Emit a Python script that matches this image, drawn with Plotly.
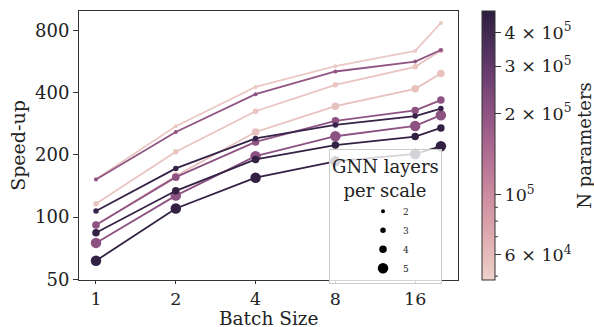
import numpy as np
import plotly.graph_objects as go

# ---------------- data ----------------
batch_sizes = [1, 2, 4, 8, 16, 20]
gnn_layers = [2, 3, 4, 2, 4, 5, 3, 4, 5]
n_params = [5.3e4, 5.5e4, 5.7e4, 1.95e5, 2.0e5, 2.05e5, 4.4e5, 4.5e5, 4.6e5]
speedup = [
    [153, 275, 426, 537, 636, 869],
    [116, 207, 325, 436, 533, 640],
    [91.5, 158, 258, 344, 417, 495],
    [152, 258, 393, 506, 565, 643],
    [91.5, 156, 231, 292, 328, 368],
    [75, 127, 197, 246, 276, 311],
    [107, 172, 240, 279, 308, 335],
    [84, 134, 190, 223, 245, 270],
    [61.5, 110, 155, 186, 202, 220],
]
legend_layers = [2, 3, 4, 5]
y_ticks = [50, 100, 200, 400, 800]
x_ticks = [1, 2, 4, 8, 16]
cb_ticks = [6e4, 1e5, 2e5, 3e5, 4e5]
cb_labels = ["6 × 10<sup>4</sup>", "10<sup>5</sup>",
             "2 × 10<sup>5</sup>", "3 × 10<sup>5</sup>", "4 × 10<sup>5</sup>"]
cb_minor = [5e4, 7e4, 8e4, 9e4]
c_min, c_max = 4.84e4, 4.8e5

# ---------------- style ----------------
FONT = "DejaVu Serif"
TXT = "#222"
size_map = {2: 4, 3: 5.5, 4: 7.5, 5: 10.5}
L_PX, R_PX, T_PX, B_PX = 79, 136, 11, 47
W, H = 594, 327
plot_w = W - L_PX - R_PX
plot_h = H - T_PX - B_PX
CB_LEFT_PX, CB_THICK = 482, 13


def cubehelix(t, start=0.0, rot=0.4, gamma=1.0, hue=0.8, light=0.85, dark=0.15):
    x = light + (dark - light) * t
    xg = x ** gamma
    a = hue * xg * (1 - xg) / 2
    phi = 2 * np.pi * (start / 3 + rot * x)
    r = xg + a * (-0.14861 * np.cos(phi) + 1.78277 * np.sin(phi))
    g = xg + a * (-0.29227 * np.cos(phi) - 0.90649 * np.sin(phi))
    b = xg + a * (1.97294 * np.cos(phi))
    return tuple(int(round(255 * min(max(v, 0), 1))) for v in (r, g, b))


lmin, lmax = np.log10(c_min), np.log10(c_max)
colorscale = []
for t in np.linspace(0, 1, 64):
    r, g, b = cubehelix(t)
    colorscale.append([float(t), f"rgb({r},{g},{b})"])


def color_for(n):
    t = (np.log10(n) - lmin) / (lmax - lmin)
    r, g, b = cubehelix(t)
    return f"rgb({r},{g},{b})"


fig = go.Figure()
for layers, n, ys in zip(gnn_layers, n_params, speedup):
    c = color_for(n)
    fig.add_trace(go.Scatter(
        x=batch_sizes, y=ys, mode="lines+markers",
        line=dict(color=c, width=1.8),
        marker=dict(size=size_map[layers], color=c),
        showlegend=False, hoverinfo="skip"))

cb_x = (CB_LEFT_PX - L_PX) / plot_w
# colorbar carrier
fig.add_trace(go.Scatter(
    x=[None], y=[None], mode="markers", showlegend=False,
    marker=dict(color=[lmin], cmin=lmin, cmax=lmax, colorscale=colorscale,
                showscale=True,
                colorbar=dict(
                    thickness=CB_THICK, thicknessmode="pixels",
                    len=1, lenmode="fraction", xpad=0, ypad=0,
                    x=cb_x, xanchor="left", y=0.5, yanchor="middle",
                    outlinewidth=1, outlinecolor="#333",
                    tickvals=[float(np.log10(v)) for v in cb_ticks],
                    ticktext=cb_labels,
                    ticks="outside", ticklen=6, tickcolor="#333",
                    tickfont=dict(family=FONT, size=17.5, color=TXT),
                    title=dict(text="N parameters", side="right",
                               font=dict(family=FONT, size=18, color=TXT)),
                ))))

# minor colorbar ticks
x_right = (CB_LEFT_PX + CB_THICK - L_PX) / plot_w
for v in cb_minor:
    yp = float((np.log10(v) - lmin) / (lmax - lmin))
    fig.add_shape(type="line", xref="paper", yref="paper",
                  x0=x_right, x1=x_right + 3 / plot_w, y0=yp, y1=yp,
                  line=dict(color="#333", width=1))

# size legend
for l in legend_layers:
    fig.add_trace(go.Scatter(
        x=[None], y=[None], mode="markers", name=str(l),
        marker=dict(size=size_map[l], color="black")))

# x-axis title placed precisely below the tick labels
fig.add_annotation(text="Batch Size", xref="paper", yref="paper",
                   x=0.5, y=0, xanchor="center", yanchor="middle",
                   yshift=-38, showarrow=False,
                   font=dict(family=FONT, size=18.5, color=TXT))

fig.update_layout(
    width=W, height=H,
    margin=dict(l=L_PX, r=R_PX, t=T_PX, b=B_PX, autoexpand=False),
    paper_bgcolor="white", plot_bgcolor="white",
    font=dict(family=FONT, color=TXT),
    legend=dict(
        x=(329 - L_PX) / plot_w, y=(H - B_PX - 149) / plot_h,
        xanchor="left", yanchor="top",
        bgcolor="rgba(255,255,255,0.8)", bordercolor="#cccccc", borderwidth=1,
        title=dict(text="GNN layers<br>\u00a0\u00a0per scale", side="top center",
                   font=dict(family=FONT, size=18, color=TXT)),
        font=dict(family=FONT, size=9, color=TXT),
        indentation=33, tracegroupgap=0,
    ),
    xaxis=dict(
        type="log", range=[-0.0641, 1.3656], automargin=False,
        tickvals=x_ticks, ticktext=[str(v) for v in x_ticks],
        ticks="outside", ticklen=3, tickcolor="#333",
        showline=True, mirror=True, linecolor="#333", linewidth=1,
        showgrid=False, zeroline=False,
        tickfont=dict(family=FONT, size=17.5, color=TXT),
    ),
    yaxis=dict(
        type="log", range=[1.6956, 2.9968], automargin=False,
        tickvals=y_ticks, ticktext=[str(v) for v in y_ticks],
        ticks="outside", ticklen=5, tickcolor="#333",
        showline=True, mirror=True, linecolor="#333", linewidth=1,
        showgrid=False, zeroline=False,
        tickfont=dict(family=FONT, size=18, color=TXT),
        title=dict(text="Speed-up", standoff=4,
                   font=dict(family=FONT, size=19, color=TXT)),
    ),
)

fig.write_html("out.html",
               config={"displayModeBar": False},
               post_script="document.body.style.margin='0';"
                           "document.body.style.overflow='hidden';")
